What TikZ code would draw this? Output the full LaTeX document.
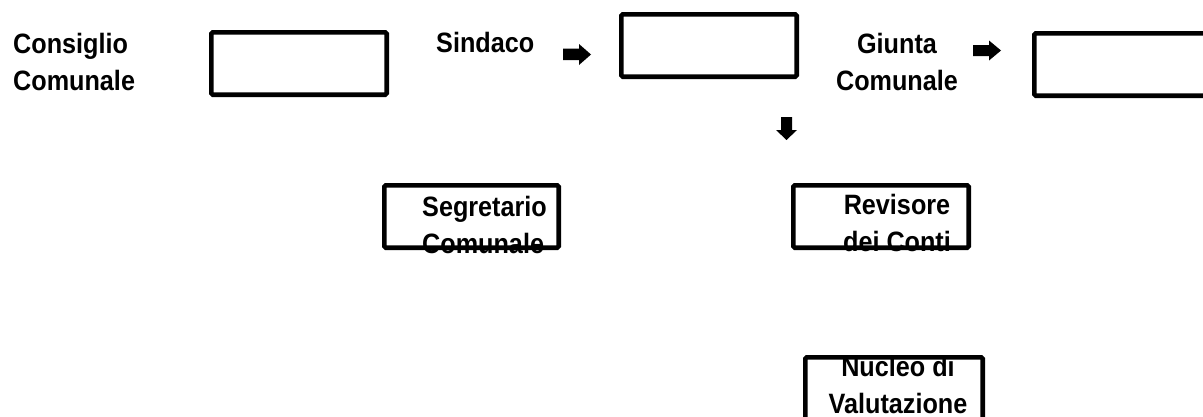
\documentclass[tikz,border=0pt]{standalone}
\usepackage{fontspec}
\setmainfont{Liberation Sans}[FakeStretch=0.9]
\begin{document}
\begin{tikzpicture}[x=1pt,y=-1pt,
  lbl/.style={font=\bfseries\fontsize{28}{37}\selectfont, inner sep=0pt, text=black},
  frame/.style={draw=black, line width=4.6pt, rounded corners=1.5pt},
  blockarrow/.style={fill=black, draw=none}]
\useasboundingbox (0,0) rectangle (1203,416);
\clip (0,0) rectangle (1203,416);
% labels
\node[lbl, anchor=north west, align=left] (consiglio) at (13,33) {Consiglio\\Comunale};
\node[lbl, anchor=north west] (sindaco) at (436,32) {Sindaco};
\node[lbl, anchor=north, align=center] (giunta) at (897,33) {Giunta\\Comunale};
\node[lbl, anchor=north west, align=left] (segretario) at (422,196) {Segretario\\Comunale};
\node[lbl, anchor=north, align=center] (revisore) at (897,194) {Revisore\\dei Conti};
\node[lbl, anchor=north, align=center] (nucleo) at (898,356) {Nucleo di\\Valutazione};
% boxes
\draw[frame] (211.3,32.3) rectangle (386.7,94.7);
\draw[frame] (621.3,14.3) rectangle (796.7,76.7);
\draw[frame] (1034.3,33.3) rectangle (1230,95.7);
\draw[frame] (384.3,185.3) rectangle (558.7,247.7);
\draw[frame] (793.3,185.3) rectangle (968.7,247.7);
\draw[frame] (805.3,357.3) rectangle (982.7,440);
% block arrows
\fill[blockarrow] (563,48.5) -- (579,48.5) -- (579,44) -- (591,54.5) -- (579,65) -- (579,60) -- (563,60) -- cycle;
\fill[blockarrow] (973,45) -- (989,45) -- (989,40.5) -- (1001,50.5) -- (989,60.5) -- (989,56) -- (973,56) -- cycle;
\fill[blockarrow] (781,117) -- (792,117) -- (792,130) -- (797,130) -- (786.5,140) -- (776,130) -- (781,130) -- cycle;
\end{tikzpicture}
\end{document}
